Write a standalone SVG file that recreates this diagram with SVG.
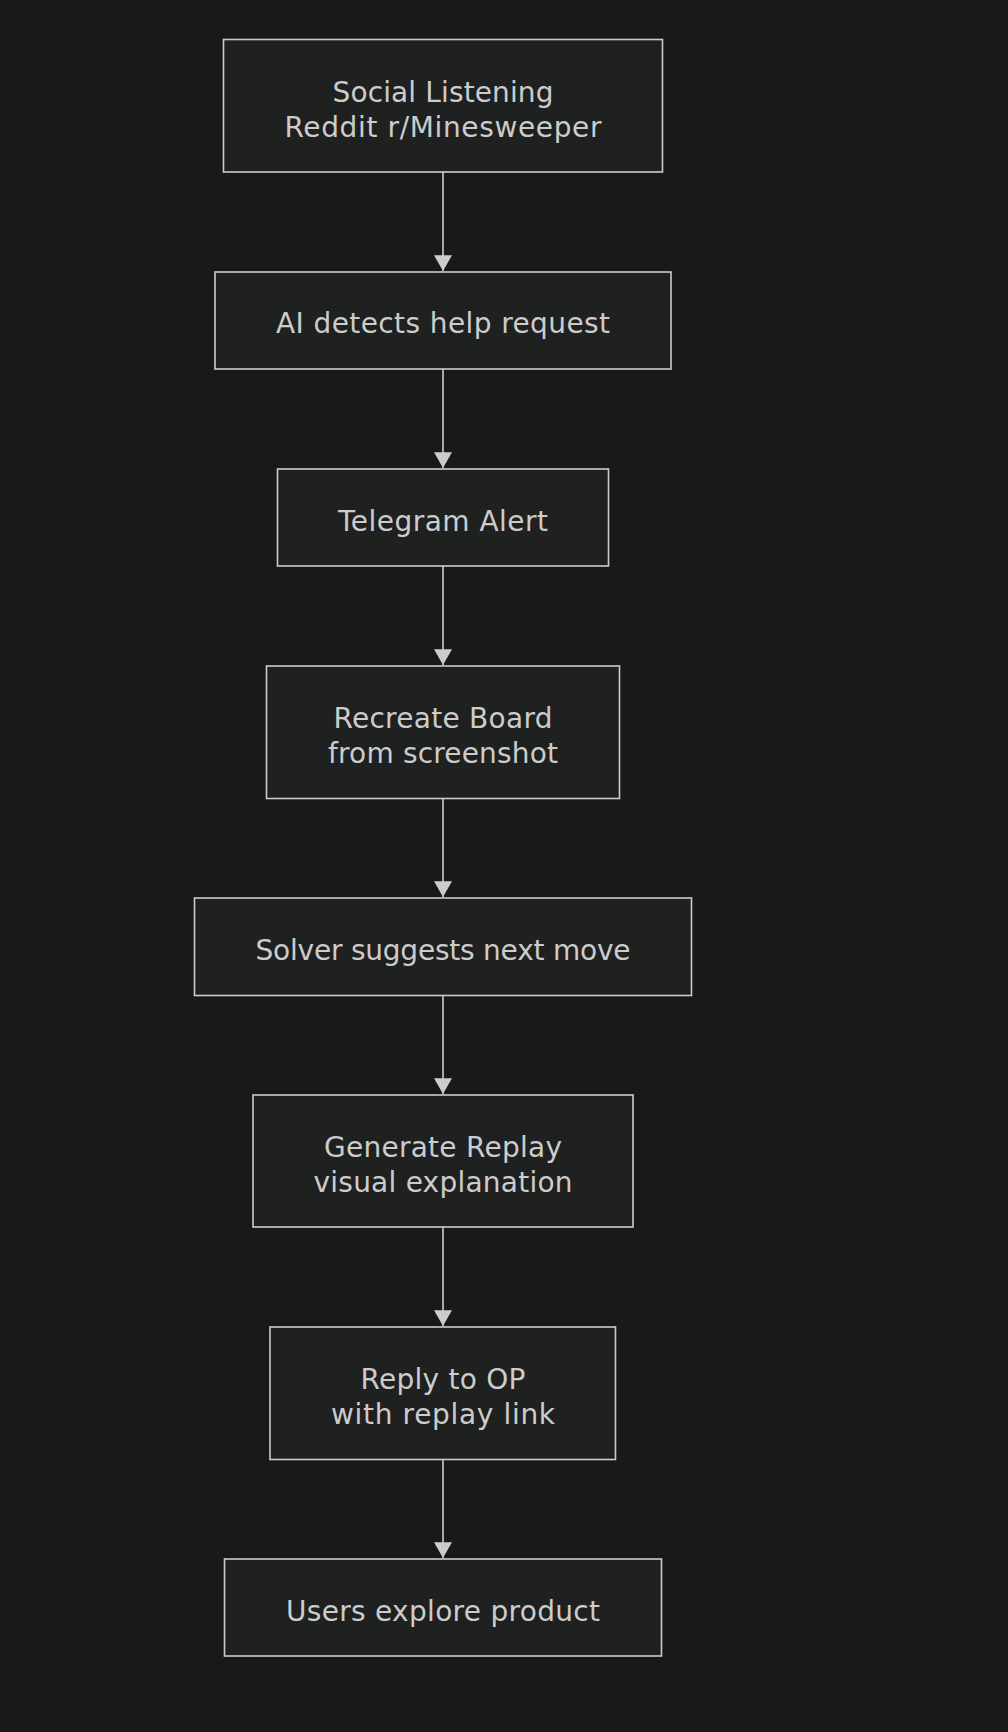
<svg xmlns="http://www.w3.org/2000/svg" width="1008" height="1732" viewBox="0 0 1008 1732">
<style>
.bg{fill:#191919}
.node rect{fill:#1f2020;stroke:#cccccc;stroke-width:1.6}
.node text{fill:#cccccc;font-family:"DejaVu Sans","Liberation Sans",sans-serif;font-size:28px;text-anchor:middle}
.edge{stroke:#cccccc;stroke-width:1.6;fill:none}
</style>
<defs>
<marker id="arrow" markerUnits="userSpaceOnUse" markerWidth="16" markerHeight="18" refX="14" refY="8" orient="auto" viewBox="0 0 14 16">
<path d="M0,0 L14,8 L0,16 Z" fill="#cccccc"/>
</marker>
</defs>
<rect class="bg" x="0" y="0" width="1008" height="1732"/>
<g id="connectors">
<line class="edge" x1="443" y1="172" x2="443" y2="271" marker-end="url(#arrow)"/>
<line class="edge" x1="443" y1="369" x2="443" y2="468" marker-end="url(#arrow)"/>
<line class="edge" x1="443" y1="566" x2="443" y2="665" marker-end="url(#arrow)"/>
<line class="edge" x1="443" y1="798" x2="443" y2="897" marker-end="url(#arrow)"/>
<line class="edge" x1="443" y1="995" x2="443" y2="1094" marker-end="url(#arrow)"/>
<line class="edge" x1="443" y1="1227" x2="443" y2="1326" marker-end="url(#arrow)"/>
<line class="edge" x1="443" y1="1459" x2="443" y2="1558" marker-end="url(#arrow)"/>
</g>
<g id="n1" class="node"><rect x="223.5" y="39.5" width="439" height="132.5"/><text x="443" y="101.5" textLength="221">Social Listening</text><text x="443" y="136.5" textLength="317">Reddit r/Minesweeper</text></g>
<g id="n2" class="node"><rect x="215" y="272" width="456" height="97"/><text x="443" y="333" textLength="334">AI detects help request</text></g>
<g id="n3" class="node"><rect x="277.5" y="469" width="331" height="97"/><text x="443" y="530.5" textLength="210">Telegram Alert</text></g>
<g id="n4" class="node"><rect x="266.5" y="666" width="353" height="132.5"/><text x="443" y="727.5" textLength="219">Recreate Board</text><text x="443" y="762.5" textLength="230">from screenshot</text></g>
<g id="n5" class="node"><rect x="194.5" y="898" width="497" height="97.5"/><text x="443" y="960" textLength="375">Solver suggests next move</text></g>
<g id="n6" class="node"><rect x="253" y="1095" width="380" height="132"/><text x="443" y="1156.5" textLength="238">Generate Replay</text><text x="443" y="1191.5" textLength="259">visual explanation</text></g>
<g id="n7" class="node"><rect x="270" y="1327" width="345.5" height="132.5"/><text x="443" y="1389" textLength="165">Reply to OP</text><text x="443" y="1424" textLength="224">with replay link</text></g>
<g id="n8" class="node"><rect x="224.5" y="1559" width="437" height="97"/><text x="443" y="1621" textLength="314">Users explore product</text></g>
</svg>
